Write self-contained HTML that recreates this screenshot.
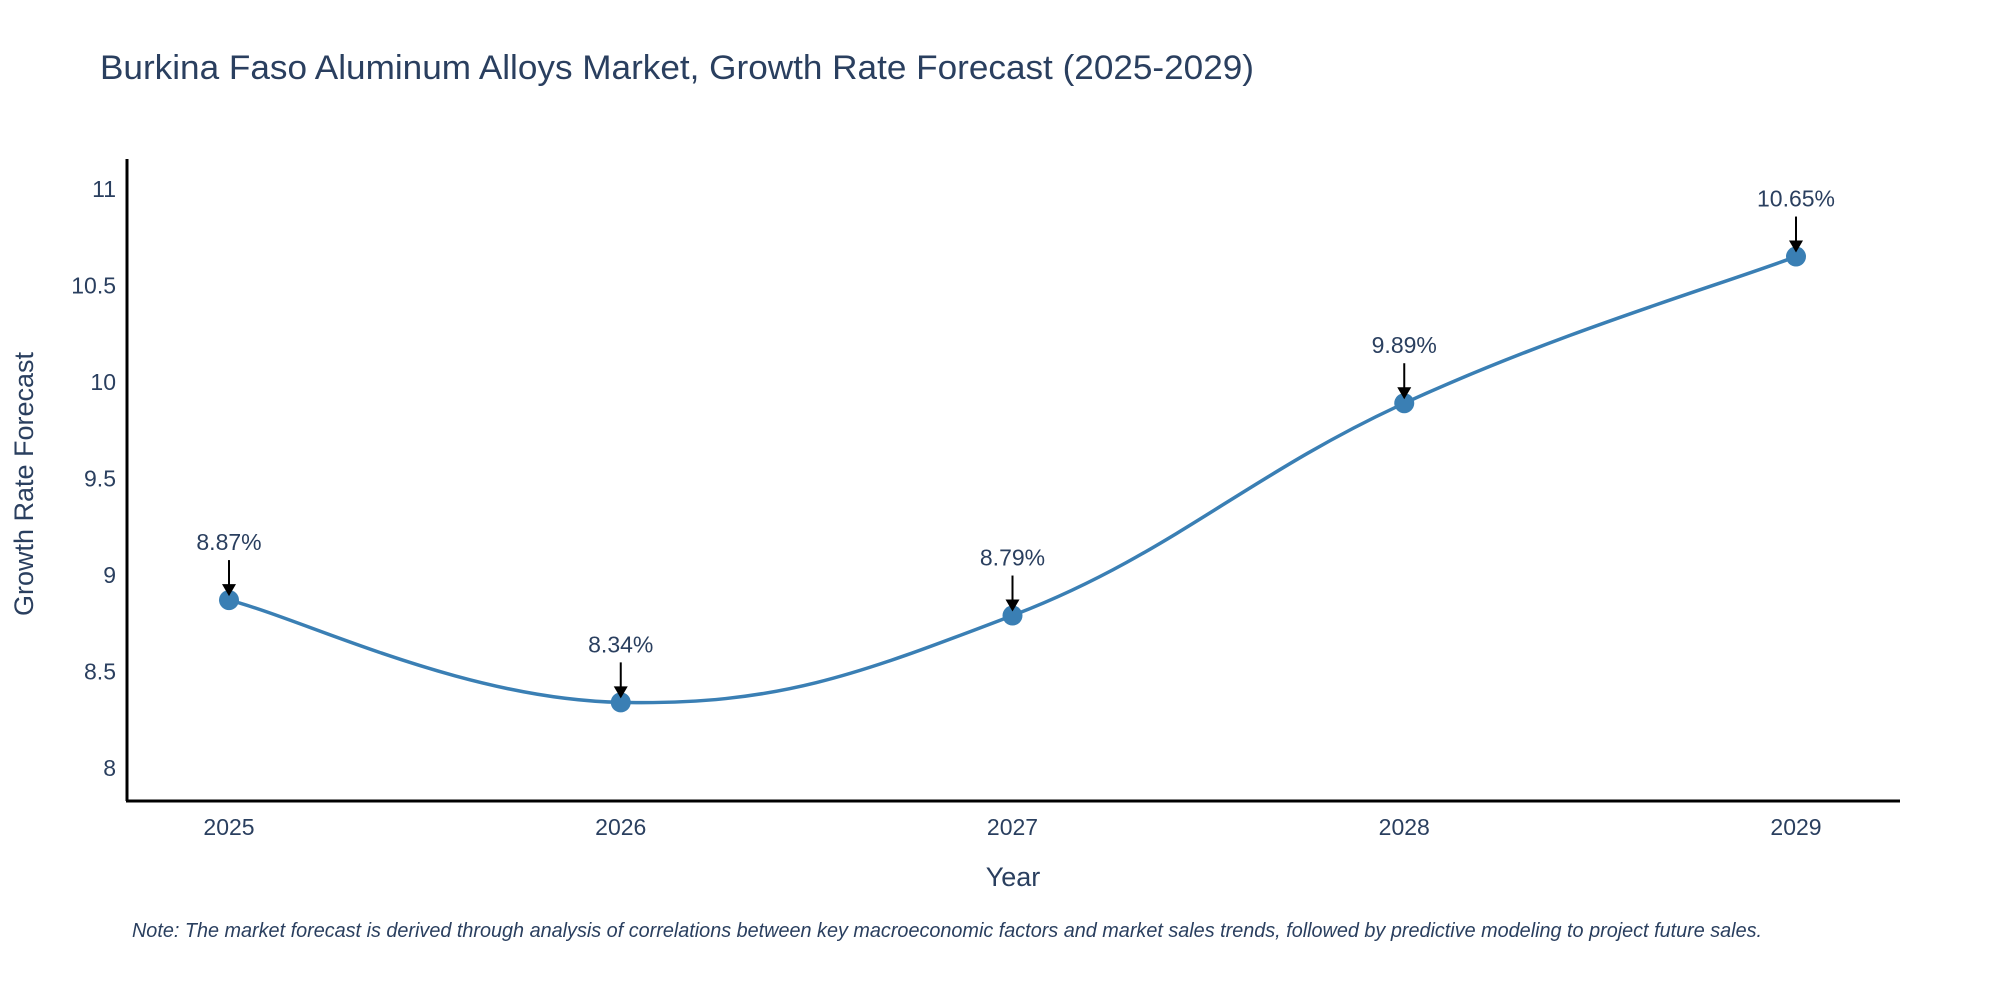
<!DOCTYPE html>
<html><head><meta charset="utf-8"><style>
body{margin:0;background:#fff;}
svg text{font-family:"Liberation Sans","DejaVu Sans",sans-serif;}
</style></head><body>
<svg id="chart" width="2000" height="1000" viewBox="0 0 2000 1000">
<text x="100" y="79" font-size="34" fill="#2a3f5f" textLength="1154" lengthAdjust="spacingAndGlyphs">Burkina Faso Aluminum Alloys Market, Growth Rate Forecast (2025-2029)</text>
<g id="yticks"></g>
<g id="xticks"></g>
<line x1="127" y1="159" x2="127" y2="801" stroke="#000" stroke-width="3"/>
<line x1="126" y1="801" x2="1900" y2="801" stroke="#000" stroke-width="3"/>
<path id="line" fill="none" stroke="#3a7fb4" stroke-width="3.5"/>
<g id="marks"></g>
<text x="1013" y="886" font-size="27" fill="#2a3f5f" text-anchor="middle">Year</text>
<text transform="translate(33,484) rotate(-90)" font-size="27" fill="#2a3f5f" text-anchor="middle">Growth Rate Forecast</text>
<text x="132" y="937" font-size="20" font-style="italic" fill="#2a3f5f" textLength="1630" lengthAdjust="spacingAndGlyphs">Note: The market forecast is derived through analysis of correlations between key macroeconomic factors and market sales trends, followed by predictive modeling to project future sales.</text>
</svg>
<script>
const years = ["2025","2026","2027","2028","2029"];
const rates = [8.87, 8.34, 8.79, 9.89, 10.65];
const yTicks = [8, 8.5, 9, 9.5, 10, 10.5, 11];
const yTickLabels = ["8","8.5","9","9.5","10","10.5","11"];

const NS="http://www.w3.org/2000/svg";
const xPos=i=>229+i*391.75;
const yPos=v=>768-(v-8)*193;
function mk(tag,attrs,parent){const e=document.createElementNS(NS,tag);for(const k in attrs)e.setAttribute(k,attrs[k]);parent.appendChild(e);return e;}

const yt=document.getElementById('yticks');
yTicks.forEach((v,i)=>{const t=mk('text',{x:116,y:yPos(v)+8,'font-size':23,fill:'#2a3f5f','text-anchor':'end'},yt);t.textContent=yTickLabels[i];

});
const xt=document.getElementById('xticks');
years.forEach((y,i)=>{const t=mk('text',{x:xPos(i),y:835,'font-size':23,fill:'#2a3f5f','text-anchor':'middle'},xt);t.textContent=y;

});

const pts=rates.map((v,i)=>[xPos(i),yPos(v)]);
let d=`M${pts[0][0]},${pts[0][1]}`;
const s=0.2;
for(let i=0;i<pts.length-1;i++){
 const p0=pts[Math.max(0,i-1)],p1=pts[i],p2=pts[i+1],p3=pts[Math.min(pts.length-1,i+2)];
 const c1=[p1[0]+(p2[0]-p0[0])*s,p1[1]+(p2[1]-p0[1])*s];
 const c2=[p2[0]-(p3[0]-p1[0])*s,p2[1]-(p3[1]-p1[1])*s];
 d+=` C${c1[0]},${c1[1]} ${c2[0]},${c2[1]} ${p2[0]},${p2[1]}`;
}
document.getElementById('line').setAttribute('d',d);

const g=document.getElementById('marks');
pts.forEach((p,i)=>{
 const c=mk('circle',{cx:p[0],cy:p[1],r:10,fill:'#3a7fb4'},g);
 
 
 const l=mk('line',{x1:p[0],y1:p[1]-40,x2:p[0],y2:p[1]-14,stroke:'#000','stroke-width':2},g);
 
 
 const a=mk('polygon',{points:`${p[0]-7},${p[1]-16} ${p[0]+7},${p[1]-16} ${p[0]},${p[1]-4}`,fill:'#000'},g);
 
 
 const t=mk('text',{x:p[0],y:p[1]-50,'font-size':23,fill:'#2a3f5f','text-anchor':'middle'},g);
 t.textContent=rates[i].toFixed(2)+'%';
 
 
});
</script>
</body></html>
